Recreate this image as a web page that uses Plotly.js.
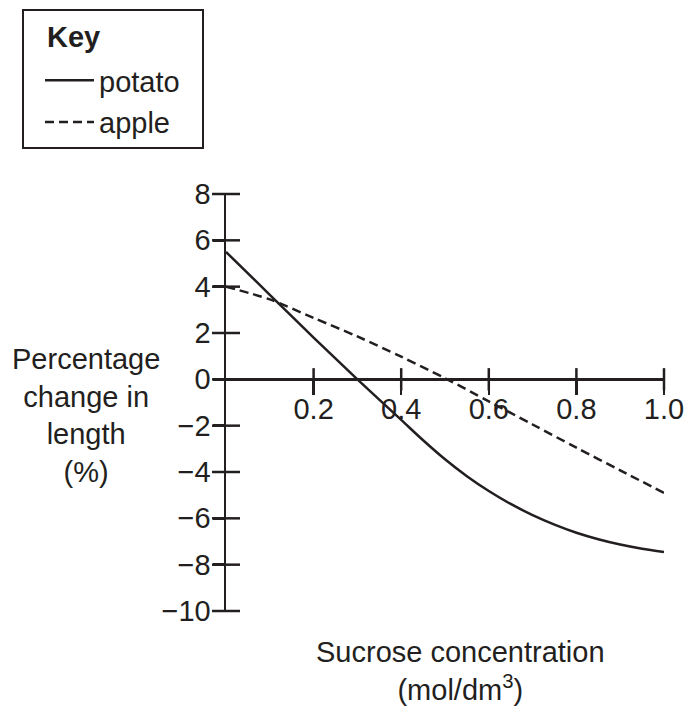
<!DOCTYPE html>
<html>
<head>
<meta charset="utf-8">
<script src="https://cdn.plot.ly/plotly-3.0.1.min.js"></script>
<style>html,body{margin:0;padding:0;background:#fff;}#chart{width:688px;height:706px;}</style>
</head>
<body>
<div id="chart"></div>
<script>
// Data
const potatoX = [0, 0.1, 0.2, 0.3, 0.4, 0.45, 0.5, 0.55, 0.6, 0.65, 0.7, 0.75, 0.8, 0.85, 0.9, 0.95, 1.0];
const potatoChange = [5.5, 3.65, 1.8, 0.0, -1.75, -2.63, -3.45, -4.18, -4.82, -5.38, -5.86, -6.27, -6.62, -6.9, -7.13, -7.31, -7.45];
const appleX = [0, 0.1, 0.2, 0.3, 0.4, 0.5, 0.6, 0.7, 0.8, 0.9, 1.0];
const appleChange = [4.0, 3.45, 2.65, 1.85, 0.98, 0.05, -0.95, -1.95, -2.95, -3.93, -4.9];
const seriesNames = ["potato", "apple"];
const keyTitle = "Key";
const xTickVals = [0.2, 0.4, 0.6, 0.8, 1.0];
const xTickText = ["0.2", "0.4", "0.6", "0.8", "1.0"];
const yTickVals = [-10, -8, -6, -4, -2, 0, 2, 4, 6, 8];

const ink = "#231f20";
const fontFam = "Liberation Sans, Arial, Helvetica, sans-serif";
const FS = 29;

const traces = [
  {x: potatoX, y: potatoChange, name: seriesNames[0], mode: "lines", legendgroup: "a",
   line: {color: ink, width: 2.5, shape: "spline", smoothing: 0.8}, hoverinfo: "skip"},
  {x: appleX, y: appleChange, name: seriesNames[1], mode: "lines", legendgroup: "b",
   line: {color: ink, width: 2.5, dash: "9px,5px", shape: "spline", smoothing: 0.8}, hoverinfo: "skip"},
  // upper half of the crossing x-axis ticks
  {x: xTickVals, y: xTickVals.map(() => 0), mode: "markers", showlegend: false, hoverinfo: "skip",
   cliponaxis: false,
   marker: {symbol: "line-ns-open", size: 16, color: ink, line: {color: ink, width: 2.5}}},
  // right half of the crossing y-axis ticks
  {x: yTickVals.map(() => 0), y: yTickVals, mode: "markers", showlegend: false, hoverinfo: "skip",
   cliponaxis: false,
   marker: {symbol: "line-ew-open", size: 20, color: ink, line: {color: ink, width: 2.5}}}
];

const L = 226, R = 24, T = 194, B = 95;
const W = 688, H = 706;
const pw = W - L - R, ph = H - T - B;
const px2paperX = p => (p - L) / pw;
const px2paperY = p => (H - B - p) / ph;
const zeroPos = 10 / 18;

const layout = {
  width: W, height: H,
  margin: {l: L, r: R, t: T, b: B, pad: 0},
  paper_bgcolor: "#fff", plot_bgcolor: "#fff",
  font: {family: fontFam, size: FS, color: ink},
  showlegend: true,
  legend: {
    xref: "container", yref: "container",
    x: 40 / W, y: 1 - 55 / H, xanchor: "left", yanchor: "top",
    bgcolor: "rgba(0,0,0,0)", borderwidth: 0,
    font: {family: fontFam, size: FS, color: ink},
    itemwidth: 49, tracegroupgap: 1
  },
  xaxis: {
    range: [0, 1.0], anchor: "free", position: zeroPos,
    showline: true, linecolor: ink, linewidth: 2.5,
    ticks: "outside", ticklen: 14, tickwidth: 2.5, tickcolor: ink,
    tickvals: xTickVals, ticktext: xTickText, ticklabelstandoff: -11,
    showgrid: false, zeroline: false, fixedrange: true,
    tickfont: {family: fontFam, size: FS, color: ink}
  },
  yaxis: {
    range: [-10, 8], anchor: "x",
    showline: true, linecolor: ink, linewidth: 2.5,
    ticks: "outside", ticklen: 11, tickwidth: 2.5, tickcolor: ink,
    tickvals: yTickVals, ticklabelstandoff: -4,
    showgrid: false, zeroline: false, fixedrange: true,
    tickfont: {family: fontFam, size: FS, color: ink}
  },
  shapes: [
    {type: "rect", xref: "paper", yref: "paper",
     x0: px2paperX(23), x1: px2paperX(203), y0: px2paperY(10), y1: px2paperY(148),
     line: {color: ink, width: 2}, fillcolor: "rgba(0,0,0,0)", layer: "above"}
  ],
  annotations: [
    {text: "<b>" + keyTitle + "</b>", xref: "paper", yref: "paper",
     x: px2paperX(45), y: px2paperY(37), xanchor: "left", yanchor: "middle",
     showarrow: false, font: {family: fontFam, size: FS, color: ink}},
    {text: "Percentage<br>change in<br>length<br>(%)", xref: "paper", yref: "paper",
     x: px2paperX(86), y: px2paperY(341), xanchor: "center", yanchor: "top",
     showarrow: false, align: "center", font: {family: fontFam, size: FS, color: ink}},
    {text: "Sucrose concentration<br>(mol/dm<sup>3</sup>)", xref: "paper", yref: "paper",
     x: px2paperX(460), y: px2paperY(634), xanchor: "center", yanchor: "top",
     showarrow: false, align: "center", font: {family: fontFam, size: FS, color: ink}}
  ]
};

Plotly.newPlot("chart", traces, layout, {displayModeBar: false, staticPlot: true});
</script>
</body>
</html>
